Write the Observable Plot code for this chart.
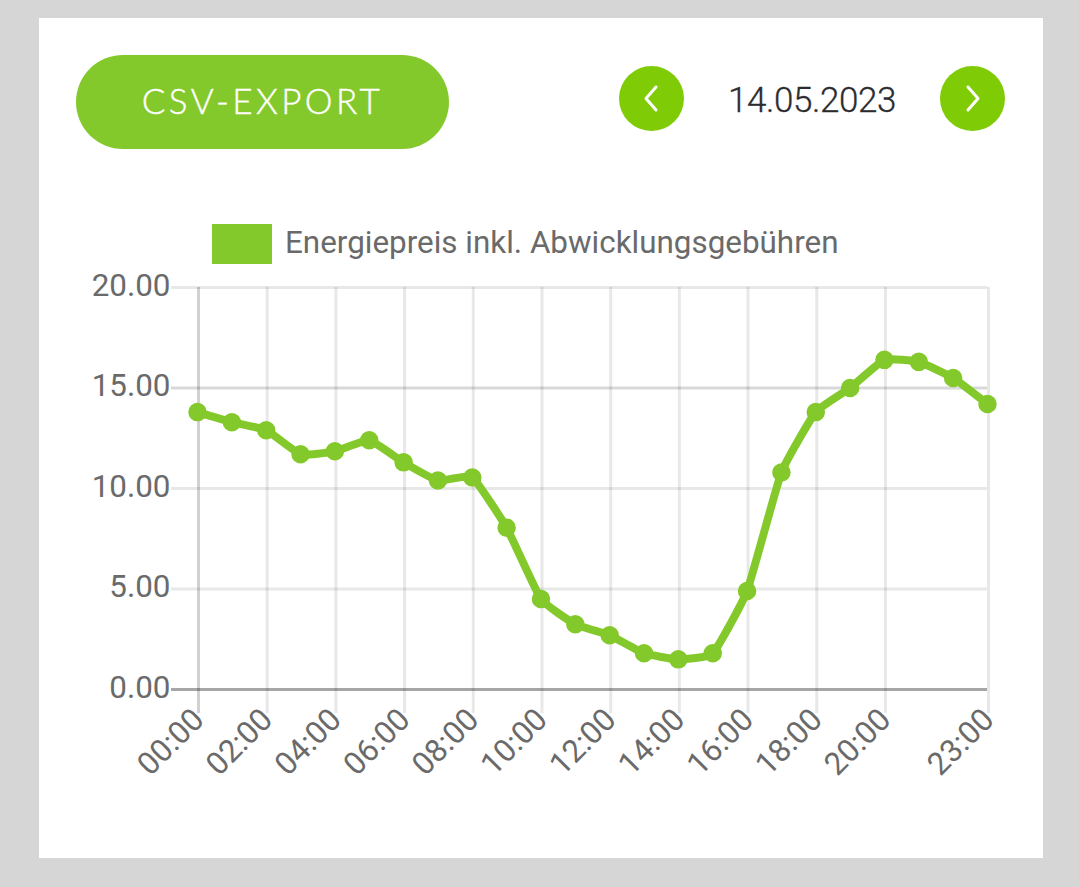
<!DOCTYPE html>
<html><head><meta charset="utf-8">
<script src="https://cdn.jsdelivr.net/npm/d3@7"></script>
<script src="https://cdn.jsdelivr.net/npm/@observablehq/plot@0.6"></script>
<style>
html,body{margin:0;padding:0;background:#d6d6d6;width:1079px;height:887px;overflow:hidden}
#card{position:absolute;left:39px;top:18px;width:1004px;height:840px;background:#fff}
#btn{position:absolute;left:76px;top:55px;width:373px;height:94px;border-radius:47px;background:#84c92b;color:#fff;font:300 35px/90px Lato,sans-serif;-webkit-text-stroke:.4px #fff;letter-spacing:3.4px;text-align:center}
.nav{position:absolute;top:66px;width:65px;height:65px;border-radius:50%;background:#7fcb06}
.nav svg{position:absolute;left:0;top:0}
#date{position:absolute;left:712px;top:78px;width:200px;text-align:center;font:300 35px/46px Roboto,sans-serif;-webkit-text-stroke:.3px #2c2c30;letter-spacing:-.4px;color:#2c2c30}
#swatch{position:absolute;left:212px;top:224px;width:60px;height:40px;background:#84c92b}
#legend{position:absolute;left:285px;top:223px;font:400 31.4px/40px Roboto,sans-serif;color:#6a6a6a;white-space:nowrap}
#chart{position:absolute;left:0;top:270px}
#chart svg{background:transparent;display:block}
</style></head><body>
<div id="card"></div>
<div id="btn">CSV-EXPORT</div>
<div class="nav" style="left:619px"><svg width="65" height="65"><path d="M37 21 L27 32.5 L37 44" fill="none" stroke="#fff" stroke-width="3" stroke-linecap="round" stroke-linejoin="round"/></svg></div>
<div id="date">14.05.2023</div>
<div class="nav" style="left:940px"><svg width="65" height="65"><path d="M28 21 L38 32.5 L28 44" fill="none" stroke="#fff" stroke-width="3" stroke-linecap="round" stroke-linejoin="round"/></svg></div>
<div id="swatch"></div>
<div id="legend">Energiepreis inkl. Abwicklungsgebühren</div>
<div id="chart"></div>
<script>
const hours = ["00:00","01:00","02:00","03:00","04:00","05:00","06:00","07:00","08:00","09:00","10:00","11:00","12:00","13:00","14:00","15:00","16:00","17:00","18:00","19:00","20:00","21:00","22:00","23:00"];
const prices = [13.8,13.3,12.9,11.7,11.85,12.4,11.3,10.4,10.55,8.05,4.5,3.25,2.7,1.8,1.5,1.8,4.9,10.8,13.8,15.0,16.4,16.3,15.5,14.2];
const xTicks = ["00:00","02:00","04:00","06:00","08:00","10:00","12:00","14:00","16:00","18:00","20:00","23:00"];
const yTicks = [0,5,10,15,20];
const rows = hours.map((h,i)=>({h,v:prices[i]}));
const green = "#84c92b";
const chart = Plot.plot({
  width:1079, height:520,
  marginLeft:197, marginRight:92, marginTop:17, marginBottom:101,
  style:{fontFamily:"Roboto, sans-serif",fontSize:"31.4px",color:"#6a6a6a",background:"transparent",overflow:"visible"},
  x:{type:"point",domain:hours,padding:0,round:false,label:null},
  y:{domain:[0,20],label:null},
  marks:[
    Plot.ruleX(xTicks,{x:d=>d,y1:20,y2:0,insetBottom:-24,dx:1,stroke:"#000",strokeOpacity:d=>d==="00:00"?0.18:0.09,strokeWidth:3}),
    Plot.ruleY(yTicks,{y:d=>d,x1:()=>"00:00",x2:()=>"23:00",insetLeft:-26,stroke:"#000",strokeOpacity:d=>d===0?0.35:(d===15?0.15:0.09),strokeWidth:3}),
    Plot.axisY({ticks:yTicks,tickSize:0,tickPadding:27,dy:-2,tickFormat:d=>d.toFixed(2),label:null,fill:"#6a6a6a",fontSize:31.4}),
    Plot.axisX({ticks:xTicks,tickSize:0,tickPadding:25,dx:1,tickRotate:-45,label:null,fill:"#6a6a6a",fontSize:31.4}),
    Plot.line(rows,{x:"h",y:"v",stroke:green,strokeWidth:8,curve:"cardinal",tension:0.6}),
    Plot.dot(rows,{x:"h",y:"v",r:8.5,fill:green,stroke:green})
  ]
});
document.getElementById("chart").append(chart);
</script>
</body></html>
